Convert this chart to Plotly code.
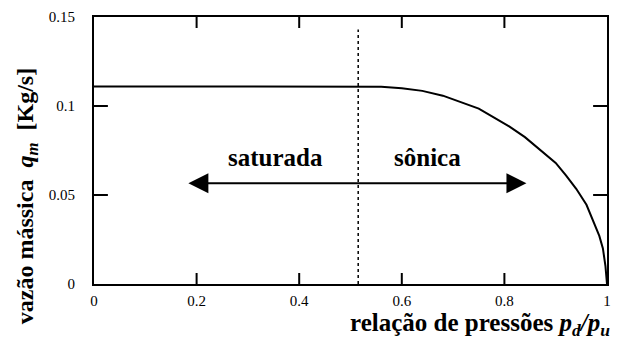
import plotly.graph_objects as go

# Mass flow rate vs. downstream/upstream pressure ratio
pressure_ratio = [0.0, 0.515, 0.56, 0.60, 0.64, 0.68, 0.72, 0.75, 0.78, 0.81,
                  0.84, 0.87, 0.90, 0.92, 0.94, 0.96, 0.975, 0.985, 0.992,
                  0.997, 1.0]
mass_flow = [0.111, 0.111, 0.1108, 0.1100, 0.1085, 0.1058, 0.1017, 0.0985,
             0.0935, 0.0884, 0.0825, 0.0755, 0.0680, 0.0610, 0.0535, 0.0445,
             0.0345, 0.0270, 0.0200, 0.0100, 0.0]

critical_ratio = 0.515
critical_line_y = [0.0, 0.143]

arrow_y = 0.0566
arrow_left = 0.181
arrow_right = 0.843
regime_labels = ["saturada", "sônica"]
regime_label_x = [0.353, 0.650]
regime_label_y = 0.0708

x_ticks = [0, 0.2, 0.4, 0.6, 0.8, 1]
y_ticks = [0, 0.05, 0.1, 0.15]

X_RANGE = [0, 1]
Y_RANGE = [0, 0.15]

FONT = "Liberation Serif, Times New Roman, serif"
WIDTH, HEIGHT = 618, 340
MARGIN = dict(l=94, r=7, t=17, b=56)
X_TICK_LEN = 11   # px
Y_TICK_LEN = 14   # px

# convert tick lengths from pixels into data units of the opposite axis
plot_w = WIDTH - MARGIN["l"] - MARGIN["r"]
plot_h = HEIGHT - MARGIN["t"] - MARGIN["b"]
dy_tick = X_TICK_LEN * (Y_RANGE[1] - Y_RANGE[0]) / plot_h
dx_tick = Y_TICK_LEN * (X_RANGE[1] - X_RANGE[0]) / plot_w

fig = go.Figure()

fig.add_trace(go.Scatter(
    x=pressure_ratio, y=mass_flow, mode="lines",
    line=dict(color="black", width=2), showlegend=False, hoverinfo="skip"))

fig.add_trace(go.Scatter(
    x=[critical_ratio, critical_ratio], y=critical_line_y, mode="lines",
    line=dict(color="black", width=1.5, dash="dot"), showlegend=False,
    hoverinfo="skip"))

# inward tick marks on all four sides
tx, ty = [], []
for xv in x_ticks[1:-1]:
    tx += [xv, xv, None, xv, xv, None]
    ty += [Y_RANGE[0], Y_RANGE[0] + dy_tick, None,
           Y_RANGE[1], Y_RANGE[1] - dy_tick, None]
for yv in y_ticks[1:-1]:
    tx += [X_RANGE[0], X_RANGE[0] + dx_tick, None,
           X_RANGE[1], X_RANGE[1] - dx_tick, None]
    ty += [yv, yv, None, yv, yv, None]
fig.add_trace(go.Scatter(
    x=tx, y=ty, mode="lines", line=dict(color="black", width=2),
    showlegend=False, hoverinfo="skip"))

# double-headed arrow spanning both regimes
fig.add_annotation(
    x=arrow_right, y=arrow_y, ax=arrow_left, ay=arrow_y,
    xref="x", yref="y", axref="x", ayref="y", text="",
    showarrow=True, arrowhead=2, startarrowhead=2, arrowside="end+start",
    arrowsize=2, startarrowsize=2, arrowwidth=2, arrowcolor="black")

for label, lx in zip(regime_labels, regime_label_x):
    fig.add_annotation(
        x=lx, y=regime_label_y, xref="x", yref="y", text=f"<b>{label}</b>",
        showarrow=False, font=dict(family=FONT, size=25, color="black"))

fig.add_annotation(
    x=1.01, y=-0.153, xref="paper", yref="paper", xanchor="right",
    yanchor="middle",
    text="<b>relação de pressões <i>p<sub>d</sub>/p<sub>u</sub></i></b>",
    showarrow=False, font=dict(family=FONT, size=25, color="black"))

fig.add_annotation(
    x=-0.13, y=0.33, xref="paper", yref="paper", xanchor="center",
    yanchor="middle", textangle=-90,
    text="<b>vazão mássica  <i>q<sub>m</sub></i>  [Kg/s]</b>",
    showarrow=False, font=dict(family=FONT, size=24, color="black"))

axis_common = dict(
    showgrid=False, zeroline=False, showline=True, linecolor="black",
    linewidth=2, mirror=True, ticks="",
    tickfont=dict(family=FONT, size=15, color="black"))

fig.update_xaxes(range=X_RANGE, tickmode="array", tickvals=x_ticks,
                 ticklabelstandoff=2, **axis_common)
fig.update_yaxes(range=Y_RANGE, tickmode="array", tickvals=y_ticks,
                 ticklabelstandoff=14, **axis_common)

fig.update_layout(
    width=WIDTH, height=HEIGHT, margin=MARGIN,
    paper_bgcolor="white", plot_bgcolor="white",
    font=dict(family=FONT, color="black"))

fig.write_html("out.html")
